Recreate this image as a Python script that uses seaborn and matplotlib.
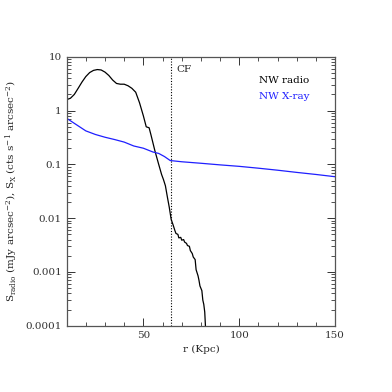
import matplotlib
matplotlib.use("Agg")
import matplotlib.pyplot as plt
import matplotlib.ticker as mticker
import numpy as np
import pandas as pd
import seaborn as sns

# NW radio surface brightness profile (mJy arcsec^-2)
radio_r = [10, 12, 14, 16, 18, 20, 22, 24, 26, 28, 30, 32, 34, 36, 38, 40, 42, 44, 46,
           48, 50, 51.5, 53, 54, 56, 58, 59.5, 60.5, 61.5, 62.5, 63.5, 64.5, 65.5, 66.5,
           67, 68, 68.5, 69.5, 70, 71, 71.5, 72.5, 73, 74, 74.5, 75.5, 76, 77, 77.5,
           78.5, 79, 79.5, 80.5, 81, 81.5, 82, 82.5]
radio_s = [1.6, 1.7, 2.0, 2.6, 3.4, 4.3, 5.1, 5.6, 5.8, 5.7, 5.2, 4.5, 3.7, 3.2, 3.1, 3.1,
           2.9, 2.6, 2.2, 1.4, 0.8, 0.5, 0.48, 0.35, 0.18, 0.1, 0.065, 0.052, 0.04, 0.025,
           0.016, 0.0095, 0.0075, 0.0058, 0.0052, 0.0050, 0.0043, 0.0044, 0.0039, 0.0040,
           0.0036, 0.0034, 0.0031, 0.0030, 0.0025, 0.0022, 0.0019, 0.0017, 0.0011,
           0.00085, 0.0007, 0.00055, 0.00045, 0.0003, 0.00025, 0.00018, 0.00008]

# NW X-ray surface brightness profile (cts s^-1 arcsec^-2)
xray_r = [10, 15, 20, 25, 30, 35, 40, 45, 50, 55, 58, 61, 63, 64, 70, 80, 90, 100,
          110, 120, 130, 140, 150]
xray_s = [0.72, 0.55, 0.42, 0.36, 0.32, 0.29, 0.26, 0.22, 0.20, 0.17, 0.16, 0.14,
          0.125, 0.118, 0.112, 0.105, 0.098, 0.092, 0.085, 0.078, 0.071, 0.065, 0.059]

cf_r = 64.3
y_ticks = [10, 1, 0.1, 0.01, 0.001, 0.0001]
y_labels = ["10", "1", "0.1", "0.01", "0.001", "0.0001"]

df = pd.concat([
    pd.DataFrame({"r": radio_r, "S": radio_s, "profile": "NW radio"}),
    pd.DataFrame({"r": xray_r, "S": xray_s, "profile": "NW X-ray"}),
])

sns.set_style("ticks")
plt.rcParams["font.family"] = ["DejaVu Serif"]
plt.rcParams["mathtext.fontset"] = "dejavuserif"

fig = plt.figure(figsize=(3.92, 3.92), dpi=100)
ax = fig.add_axes([0.170, 0.169, 0.685, 0.686])

sns.lineplot(data=df, x="r", y="S", hue="profile", palette={"NW radio": "black", "NW X-ray": "#1f1fff"},
             linewidth=0.9, legend=False, sort=False, ax=ax)
ax.axvline(cf_r, color="black", linestyle=(0, (1, 1.5)), linewidth=0.8)

ax.set_yscale("log")
ax.set_xlim(10, 150)
ax.set_ylim(0.0001, 10)
ax.set_yticks(y_ticks)
ax.set_yticklabels(y_labels)
ax.yaxis.set_minor_locator(mticker.LogLocator(base=10, subs=np.arange(2, 10)))
ax.yaxis.set_minor_formatter(mticker.NullFormatter())
ax.set_xticks([50, 100, 150])
ax.xaxis.set_minor_locator(mticker.MultipleLocator(10))

ax.tick_params(which="both", direction="in", top=True, right=True, labelsize=7.5, colors="#333333")
ax.tick_params(which="major", length=6, width=0.7)
ax.tick_params(which="minor", length=3, width=0.6)
for sp in ax.spines.values():
    sp.set_color("#555555")
    sp.set_linewidth(0.9)

ax.set_xlabel("r (Kpc)", fontsize=7.5)
ax.set_ylabel(r"S$_{\rm radio}$ (mJy arcsec$^{-2}$), S$_{\rm X}$ (cts s$^{-1}$ arcsec$^{-2}$)", fontsize=7.5)

ax.text(67, 5.2, "CF", fontsize=7.5)
ax.text(0.717, 0.911, "NW radio", transform=ax.transAxes, fontsize=7.5, color="black", va="center")
ax.text(0.717, 0.852, "NW X-ray", transform=ax.transAxes, fontsize=7.5, color="#1f1fff", va="center")

fig.savefig("out.png", dpi=100)
